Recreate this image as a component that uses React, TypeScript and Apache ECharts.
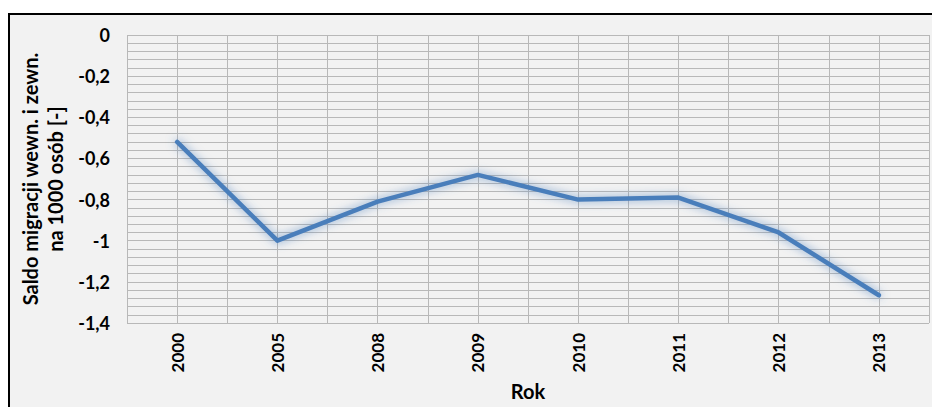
import React, { useEffect, useRef } from "react";
import * as echarts from "echarts";

const years = ["2000", "2005", "2008", "2009", "2010", "2011", "2012", "2013"];
const saldo = [-0.52, -1.0, -0.81, -0.68, -0.8, -0.79, -0.96, -1.265];
const yTitle = "Saldo migracji wewn. i zewn.\nna 1000 osób [-]";
const xTitle = "Rok";

const FONT = "Lato";

export default function App() {
  const ref = useRef<HTMLDivElement>(null);
  useEffect(() => {
    if (!ref.current) return;
    const chart = echarts.init(ref.current, undefined, { renderer: "svg" });
    const gridColor = "#b8b8b8";
    chart.setOption({
      animation: false,
      backgroundColor: "#ffffff",
      graphic: [
        {
          type: "rect",
          z: -10,
          silent: true,
          shape: { x: 9, y: 14, width: 960, height: 420 },
          style: { fill: "#f2f2f2", stroke: "#000000", lineWidth: 2 },
        },
      ],
      grid: { left: 127, top: 35, width: 802, height: 288, containLabel: false },
      xAxis: [
        {
          type: "category",
          data: years,
          boundaryGap: true,
          axisLine: { show: false },
          axisTick: { show: false },
          splitLine: { show: false },
          axisLabel: {
            rotate: 90,
            margin: 10,
            color: "#000",
            fontFamily: FONT,
            fontWeight: "bold",
            fontSize: 17,
          },
          name: xTitle,
          nameLocation: "middle",
          nameGap: 58,
          nameTextStyle: {
            color: "#000",
            fontFamily: FONT,
            fontWeight: "bold",
            fontSize: 20,
          },
        },
        {
          type: "value",
          min: 0,
          max: 8,
          interval: 0.5,
          position: "bottom",
          axisLine: { show: false },
          axisTick: { show: false },
          axisLabel: { show: false },
          splitLine: { show: true, lineStyle: { color: gridColor, width: 1 } },
        },
      ],
      yAxis: {
        type: "value",
        min: -1.4,
        max: 0,
        interval: 0.2,
        axisLine: { show: false },
        axisTick: { show: false },
        splitLine: { show: true, lineStyle: { color: gridColor, width: 1 } },
        minorTick: { show: false, splitNumber: 5 },
        minorSplitLine: { show: true, lineStyle: { color: gridColor, width: 1 } },
        axisLabel: {
          margin: 17,
          color: "#000",
          fontFamily: FONT,
          fontWeight: "bold",
          fontSize: 18,
          formatter: (v: number) => String(Math.round(v * 10) / 10).replace(".", ","),
        },
        name: yTitle,
        nameLocation: "middle",
        nameGap: 58,
        nameTextStyle: {
          color: "#000",
          fontFamily: FONT,
          fontWeight: "bold",
          fontSize: 20,
          lineHeight: 25,
          align: "center",
        },
      },
      series: [
        {
          type: "line",
          data: saldo,
          xAxisIndex: 0,
          showSymbol: false,
          symbol: "none",
          lineStyle: {
            color: "#4a7ebb",
            width: 4.5,
            shadowColor: "rgba(79,129,189,0.75)",
            shadowBlur: 10,
            cap: "round",
            join: "round",
          },
        },
      ],
    });
    return () => chart.dispose();
  }, []);
  return (
    <div
      ref={ref}
      style={{ position: "fixed", left: 0, top: 0, width: 932, height: 407 }}
    />
  );
}
